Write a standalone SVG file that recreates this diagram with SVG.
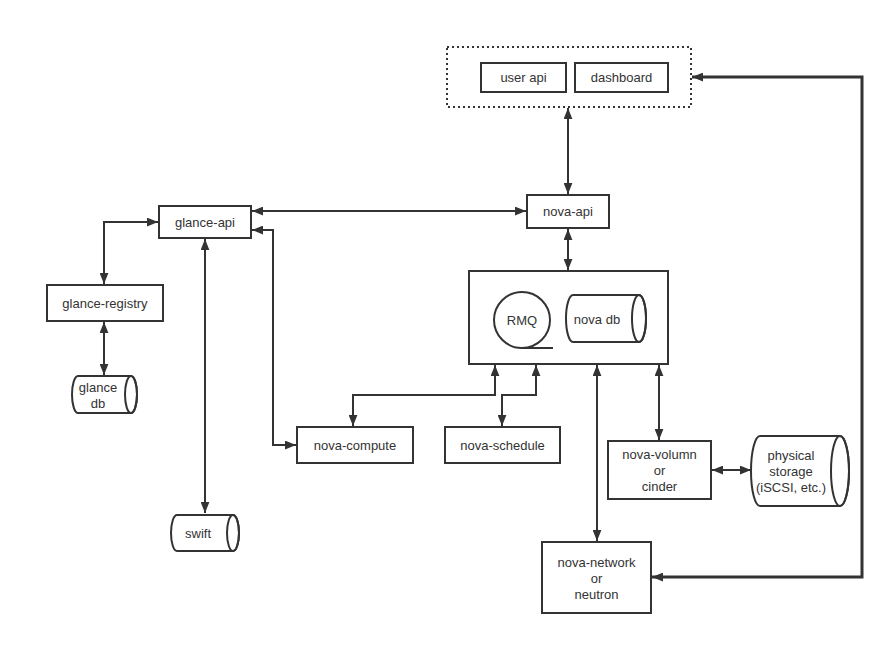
<svg xmlns="http://www.w3.org/2000/svg" width="896" height="646" viewBox="0 0 896 646">
<defs>
<marker id="ah" viewBox="0 0 10 8" refX="10" refY="4" markerWidth="11" markerHeight="9" markerUnits="userSpaceOnUse" orient="auto-start-reverse">
<path d="M0,0 L10,4 L0,8 Z" fill="#333"/>
</marker>
<style>
.box{fill:#fff;stroke:#333;stroke-width:2}
.cyl{fill:#fff;stroke:#333;stroke-width:2}
.t{font-family:"Liberation Sans","Noto Sans",sans-serif;font-size:13px;fill:#333;text-anchor:middle;dominant-baseline:central}
.c{fill:none;stroke:#333;stroke-width:2;marker-start:url(#ah);marker-end:url(#ah)}
</style>
</defs>
<rect width="896" height="646" fill="#fff"/>

<g id="connectors">
<path class="c" d="M568,108 L568,194"/>
<path class="c" d="M568,229 L568,270"/>
<path class="c" d="M252,211 L526,211"/>
<path class="c" d="M252,230 L273,230 L273,445 L296,445"/>
<path class="c" d="M158,222 L104,222 L104,284"/>
<path class="c" d="M104,322 L104,375"/>
<path class="c" d="M205,239 L205,513"/>
<path class="c" d="M495,365 L495,395 L353,395 L353,426"/>
<path class="c" d="M536,365 L536,395 L502,395 L502,426"/>
<path class="c" d="M597,365 L597,541"/>
<path class="c" d="M659,365 L659,440"/>
<path class="c" d="M712,470 L751,470"/>
<path class="c" style="stroke-width:3" d="M692,77 L862,77 L862,577 L652,577"/>
</g>

<g id="ui-group">
<rect x="447" y="47" width="244" height="60" fill="none" stroke="#333" stroke-width="2" stroke-dasharray="2,3"/>
</g>
<g id="user-api">
<rect class="box" x="481" y="63" width="85" height="29"/>
<text class="t" x="523.5" y="77.5">user api</text>
</g>
<g id="dashboard">
<rect class="box" x="575" y="63" width="93" height="29"/>
<text class="t" x="621.5" y="77.5">dashboard</text>
</g>
<g id="nova-api">
<rect class="box" x="527" y="195" width="82" height="33"/>
<text class="t" x="568" y="211.5">nova-api</text>
</g>
<g id="glance-api">
<rect class="box" x="159" y="206" width="92" height="32"/>
<text class="t" x="205" y="222">glance-api</text>
</g>
<g id="glance-registry">
<rect class="box" x="47" y="285" width="116" height="36"/>
<text class="t" x="105" y="303">glance-registry</text>
</g>
<g id="glance-db">
<path class="cyl" d="M78,376 L131,376 A6,18.5 0 0 1 131,413 L78,413 A6,18.5 0 0 1 78,376 Z"/>
<ellipse cx="131" cy="394.5" rx="6" ry="18.5" fill="none" stroke="#333" stroke-width="2"/>
<text class="t" x="98" y="387">glance</text>
<text class="t" x="98" y="403">db</text>
</g>
<g id="core">
<rect class="box" x="469" y="271" width="199" height="93"/>
</g>
<g id="rmq">
<circle cx="522" cy="320" r="28" fill="#fff" stroke="#333" stroke-width="2"/>
<path d="M522,348 L553,348" stroke="#333" stroke-width="2"/>
<text class="t" x="522" y="320">RMQ</text>
</g>
<g id="nova-db">
<path class="cyl" d="M573,295 L639,295 A7,23.5 0 0 1 639,342 L573,342 A7,23.5 0 0 1 573,295 Z"/>
<ellipse cx="639" cy="318.5" rx="7" ry="23.5" fill="none" stroke="#333" stroke-width="2"/>
<text class="t" x="597" y="319">nova db</text>
</g>
<g id="nova-compute">
<rect class="box" x="297" y="427" width="116" height="36"/>
<text class="t" x="355" y="445">nova-compute</text>
</g>
<g id="nova-schedule">
<rect class="box" x="445" y="427" width="115" height="36"/>
<text class="t" x="502.5" y="445">nova-schedule</text>
</g>
<g id="nova-volumn">
<rect class="box" x="608" y="441" width="103" height="58"/>
<text class="t" x="659.5" y="454">nova-volumn</text>
<text class="t" x="659.5" y="470">or</text>
<text class="t" x="659.5" y="486">cinder</text>
</g>
<g id="physical-storage">
<path class="cyl" d="M760,436 L840,436 A9,35 0 0 1 840,506 L760,506 A9,35 0 0 1 760,436 Z"/>
<ellipse cx="840" cy="471" rx="9" ry="35" fill="none" stroke="#333" stroke-width="2"/>
<text class="t" x="791" y="455">physical</text>
<text class="t" x="791" y="471">storage</text>
<text class="t" x="791" y="487">(iSCSI, etc.)</text>
</g>
<g id="nova-network">
<rect class="box" x="542" y="542" width="109" height="71"/>
<text class="t" x="596.5" y="562">nova-network</text>
<text class="t" x="596.5" y="578">or</text>
<text class="t" x="596.5" y="594">neutron</text>
</g>
<g id="swift">
<path class="cyl" d="M177,515 L233,515 A6,18 0 0 1 233,551 L177,551 A6,18 0 0 1 177,515 Z"/>
<ellipse cx="233" cy="533" rx="6" ry="18" fill="none" stroke="#333" stroke-width="2"/>
<text class="t" x="198" y="533">swift</text>
</g>
</svg>
